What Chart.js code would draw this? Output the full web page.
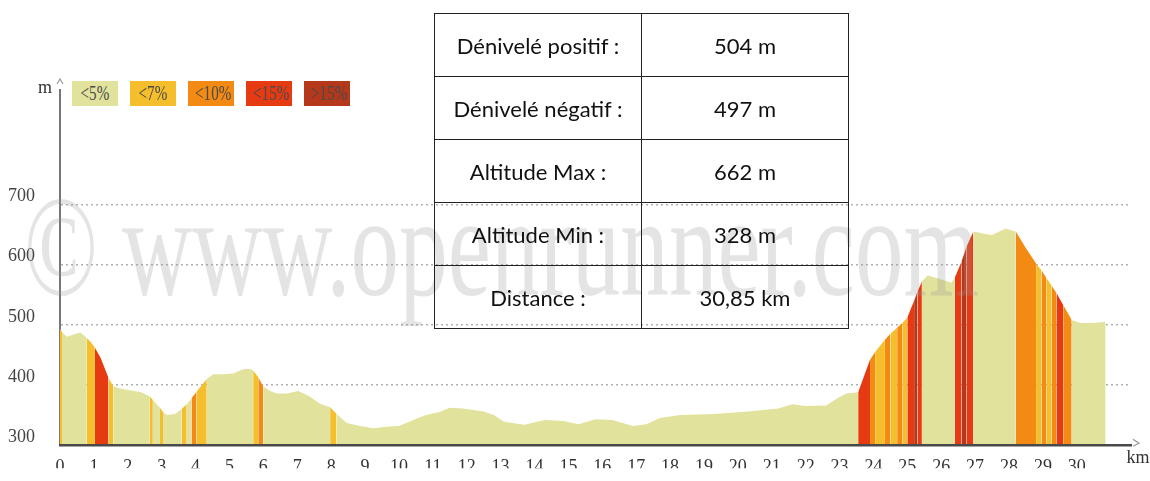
<!DOCTYPE html>
<html>
<head>
<meta charset="utf-8">
<script src="https://cdn.jsdelivr.net/npm/chart.js@4/dist/chart.umd.min.js"></script>
<style>
  body { margin: 0; background: #fff; }
  #wrap { position: relative; width: 1150px; height: 481px; }
  #profile { position: absolute; left: 0; top: 0; }
  .key { position: absolute; top: 81px; width: 46px; height: 25px; font: 21px "Liberation Serif", serif; color: #4a4a4a; line-height: 25px; text-align: center; white-space: nowrap; }
  .key span { display: inline-block; transform: scaleX(0.72); }
  #stats { position: absolute; left: 434px; top: 13px; border-collapse: collapse; font: 22px Lato, sans-serif; color: #111; }
  #stats td { border: 1.5px solid #222; width: 206px; height: 62px; padding: 0; text-align: center; }
</style>
</head>
<body>
<div id="wrap">
  <canvas id="profile" width="1150" height="481"></canvas>
  <div id="keys"></div>
  <table id="stats"></table>
</div>
<script>
// distance (km) / altitude (m)
const kms = [0, 0.06, 0.2, 0.4, 0.6, 0.79, 0.9, 1.03, 1.2, 1.43, 1.57, 1.77, 2.1, 2.4, 2.65, 2.74, 2.95, 3.04, 3.15, 3.4,
  3.59, 3.74, 3.88, 3.98, 4.03, 4.2, 4.33, 4.52, 4.8, 5.11, 5.4, 5.6, 5.7, 5.85, 6.0, 6.2, 6.4, 6.7, 7.03, 7.37,
  7.67, 7.97, 8.16, 8.46, 8.85, 9.24, 9.7, 10.0, 10.42, 10.8, 11.2, 11.5, 11.9, 12.5, 12.8, 13.1, 13.7, 14.3, 14.85, 15.3,
  15.8, 16.3, 16.9, 17.3, 17.7, 18.3, 19.3, 20.3, 21.2, 21.6, 22.0, 22.6, 23.0, 23.2, 23.55, 23.9, 24.05, 24.34, 24.5, 24.7,
  24.85, 25.0, 25.2, 25.3, 25.43, 25.6, 25.96, 26.3, 26.4, 26.6, 26.75, 26.95, 27.3, 27.5, 27.9, 28.2, 28.5, 28.8, 28.96, 29.1,
  29.26, 29.4, 29.6, 29.85, 30.1, 30.5, 30.85];
const altitudes = [493, 488, 480, 484, 487, 478, 472, 462, 445, 412, 398, 394, 391, 388, 381, 375, 362, 355, 350, 352,
  360, 368, 378, 385, 389, 401, 410, 418, 418, 419, 426, 427, 424, 413, 397, 390, 386, 386, 390, 381,
  369, 363, 352, 337, 332, 328, 331, 332, 342, 350, 355, 362, 361, 356, 350, 339, 334, 342, 340, 335,
  343, 342, 332, 335, 345, 350, 352, 356, 361, 368, 365, 366, 380, 386, 388, 442, 455, 475, 485, 495,
  503, 512, 540, 555, 572, 582, 576, 570, 578, 605, 630, 655, 651, 649, 660, 655, 627, 602, 590, 578,
  565, 553, 533, 508, 503, 503, 505];

const kmTicks = [0, 1, 2, 3, 4, 5, 6, 7, 8, 9, 10, 11, 12, 13, 14, 15, 16, 17, 18, 19, 20,
  21, 22, 23, 24, 25, 26, 27, 28, 29, 30];
const altTicks = [300, 400, 500, 600, 700];

// slope classes and where they apply
const slopeLabels = ['<5%', '<7%', '<10%', '<15%', '>15%'];
const slopeColors = ['#E1E29C', '#F4BE2C', '#F28A14', '#E63A12', '#B5381A'];
const zoneStart = [0, 0.79, 1.03, 1.43, 2.65, 2.95, 3.59, 3.88, 4.03, 5.7, 5.85, 7.97,
  23.55, 23.9, 24.05, 24.34, 24.5, 24.7, 24.85, 25.0, 25.2, 25.3, 26.4, 26.6, 26.75,
  28.2, 28.8, 28.96, 29.1, 29.26, 29.4, 29.6];
const zoneEnd = [0.06, 1.03, 1.43, 1.57, 2.74, 3.04, 3.74, 4.03, 4.33, 5.85, 6.0, 8.16,
  23.9, 24.05, 24.34, 24.5, 24.7, 24.85, 25.0, 25.2, 25.3, 25.43, 26.6, 26.75, 26.95,
  28.8, 28.96, 29.1, 29.26, 29.4, 29.6, 29.85];
const zoneClass = [1, 1, 3, 1, 1, 1, 1, 2, 1, 1, 2, 1,
  3, 2, 1, 2, 1, 2, 1, 3, 4, 3, 3, 4, 3,
  2, 1, 2, 1, 2, 3, 2];

const statLabels = ['Dénivelé positif :', 'Dénivelé négatif :', 'Altitude Max :', 'Altitude Min :', 'Distance :'];
const statValues = ['504 m', '497 m', '662 m', '328 m', '30,85 km'];

// key boxes
const keyLeft = [72, 130, 188, 246, 304];
const keys = document.getElementById('keys');
slopeLabels.forEach((t, i) => {
  const d = document.createElement('div');
  d.className = 'key';
  d.style.left = keyLeft[i] + 'px';
  d.style.background = slopeColors[i];
  d.innerHTML = '<span></span>';
  d.firstChild.textContent = t;
  keys.appendChild(d);
});

// stats table
const table = document.getElementById('stats');
statLabels.forEach((t, i) => {
  const tr = table.insertRow();
  tr.insertCell().textContent = t;
  tr.insertCell().textContent = statValues[i];
});

function zoneColor(x) {
  for (let i = 0; i < zoneStart.length; i++) {
    if (x >= zoneStart[i] && x < zoneEnd[i]) return slopeColors[zoneClass[i]];
  }
  return slopeColors[0];
}

const extras = {
  id: 'extras',
  afterDatasetsDraw(chart) {
    const c = chart.ctx;
    // watermark
    c.save();
    c.fillStyle = 'rgba(150,150,150,0.26)';
    c.font = '145px "Liberation Serif", serif';
    c.textBaseline = 'alphabetic';
    c.translate(24, 295);
    c.scale(0.67, 1);
    c.fillText('© www.openrunner.com', 0, 0);
    c.restore();
  },
  afterDraw(chart) {
    const c = chart.ctx;
    const a = chart.chartArea;
    c.save();
    c.strokeStyle = '#999';
    c.lineWidth = 1.2;
    c.beginPath();
    c.moveTo(a.left - 3, a.top - 6);
    c.lineTo(a.left, a.top - 11);
    c.lineTo(a.left + 3, a.top - 6);
    c.stroke();
    c.beginPath();
    c.moveTo(a.right + 2, a.bottom - 6);
    c.lineTo(a.right + 8, a.bottom - 2);
    c.lineTo(a.right + 2, a.bottom + 1);
    c.stroke();
    c.fillStyle = '#333';
    c.font = '18px "Liberation Serif", serif';
    c.textAlign = 'center';
    c.textBaseline = 'middle';
    c.fillText('m', a.left - 15, a.top - 2);
    c.fillText('km', a.right + 7, a.bottom + 13);
    c.restore();
  }
};

new Chart(document.getElementById('profile'), {
  type: 'line',
  data: {
    datasets: [{
      data: kms.map((x, i) => ({ x: x, y: altitudes[i] })),
      fill: 'start',
      backgroundColor: slopeColors[0],
      borderWidth: 0,
      pointRadius: 0,
      tension: 0,
      segment: {
        backgroundColor: ctx => zoneColor((ctx.p0.parsed.x + ctx.p1.parsed.x) / 2)
      }
    }]
  },
  options: {
    responsive: false,
    animation: false,
    layout: { padding: { top: 90, right: 19, left: 0, bottom: 0 } },
    plugins: { legend: { display: false }, tooltip: { enabled: false } },
    scales: {
      x: {
        type: 'linear',
        min: 0,
        max: 31.6,
        afterFit: s => { s.height = 23; },
        afterBuildTicks: s => { s.ticks = kmTicks.map(v => ({ value: v })); },
        ticks: { padding: 3, color: '#333', font: { family: 'Liberation Serif', size: 18 } },
        grid: { display: false },
        border: { color: '#4a4a4a', width: 2.5, z: 1 }
      },
      y: {
        min: 300,
        max: 890,
        afterFit: s => { s.width = 60; },
        afterBuildTicks: s => { s.ticks = altTicks.map(v => ({ value: v })); },
        ticks: { padding: 25, labelOffset: -8, color: '#444', font: { family: 'Liberation Serif', size: 18 } },
        grid: {
          drawTicks: false,
          color: ctx => ctx.tick && ctx.tick.value > 300 ? '#b0b0b0' : 'rgba(0,0,0,0)',
          lineWidth: 1.5
        },
        border: { color: '#777', width: 2, dash: [2, 3] }
      }
    }
  },
  plugins: [extras]
});
</script>
</body>
</html>
